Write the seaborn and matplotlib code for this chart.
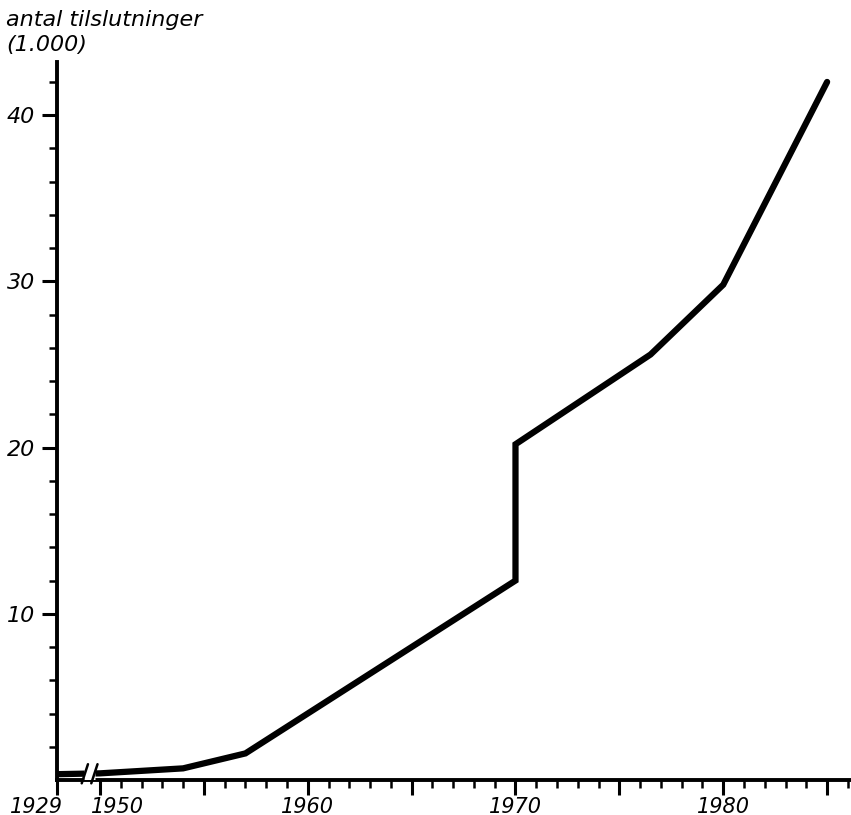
import numpy as np
import pandas as pd
import matplotlib
matplotlib.use("Agg")
import matplotlib.pyplot as plt
import matplotlib.transforms as mtransforms
from matplotlib.ticker import FixedLocator, FuncFormatter
import seaborn as sns

# data (antal tilslutninger, 1.000)
years = [1929, 1950, 1954, 1957, 1970, 1970, 1976.5, 1980, 1985]
values = [0.35, 0.4, 0.7, 1.6, 12.0, 20.2, 25.6, 29.8, 42.0]

label_years = [1929, 1950, 1960, 1970, 1980]
major_years = [1929, 1950, 1955, 1960, 1965, 1970, 1975, 1980, 1985]
minor_years = [y for y in range(1951, 1987) if y % 5 != 0]
y_major = [10, 20, 30, 40]
y_minor = [v for v in range(2, 44, 2) if v % 10 != 0]

# axis break: 1929 is drawn ~2 years left of 1950
BREAK_POS = 1947.93


def to_pos(year):
    return BREAK_POS if year < 1950 else year


def to_year(pos):
    return 1929 if pos < 1949 else int(round(pos))


df = pd.DataFrame({"year": years, "value": values})
df["pos"] = df["year"].apply(to_pos)

sns.set_style("ticks")
plt.rcParams["font.family"] = ["DejaVu Sans"]
plt.rcParams["font.style"] = "italic"
plt.rcParams["text.color"] = "black"
plt.rcParams["xtick.color"] = "black"
plt.rcParams["ytick.color"] = "black"
plt.rcParams["axes.edgecolor"] = "black"

fig = plt.figure(figsize=(8.51, 8.15), dpi=100)
ax = fig.add_axes([57 / 851, 35 / 815, (851 - 57) / 851, (780 - 62) / 815])

sns.lineplot(data=df, x="pos", y="value", ax=ax, color="black", linewidth=4.5,
             estimator=None, sort=False, solid_joinstyle="miter", zorder=3)

ax.set_xlim(BREAK_POS, 1986.15)
ax.set_ylim(0, 43.2)

# break in the curve and the axis
gap_l, gap_r = 1949.25, 1949.75
ax.plot([gap_l, gap_r], [0.38, 0.38], color="white", linewidth=8, zorder=4,
        solid_capstyle="butt")
for gx in (gap_l + 0.02, gap_r - 0.02):
    ax.plot([gx - 0.15, gx + 0.15], [-0.2, 0.95], color="black", linewidth=1.8,
            zorder=5, clip_on=False)

ax.xaxis.set_major_locator(FixedLocator([to_pos(y) for y in major_years]))
ax.xaxis.set_minor_locator(FixedLocator(minor_years))
ax.xaxis.set_major_formatter(FuncFormatter(
    lambda p, _: str(to_year(p)) if to_year(p) in label_years else ""))
ax.yaxis.set_major_locator(FixedLocator(y_major))
ax.yaxis.set_minor_locator(FixedLocator(y_minor))

ax.tick_params(axis="both", which="major", length=11, width=2.2,
               labelsize=15, direction="out", pad=3)
ax.tick_params(axis="x", which="major", pad=1)
ax.tick_params(axis="y", which="major", labelsize=16, pad=5)
ax.tick_params(axis="both", which="minor", length=6, width=1.8, direction="out")

for side in ("top", "right"):
    ax.spines[side].set_visible(False)
for side in ("left", "bottom"):
    ax.spines[side].set_linewidth(2.8)

ax.set_xlabel("")
ax.set_ylabel("")

# 1929 and 1950 labels sit either side of the break
fig.canvas.draw()
for lab in ax.get_xticklabels():
    if lab.get_text() == "1929":
        lab.set_ha("right")
        lab.set_transform(lab.get_transform() + mtransforms.ScaledTranslation(
            6 / 100, 0, fig.dpi_scale_trans))
    elif lab.get_text() == "1950":
        lab.set_ha("left")
        lab.set_transform(lab.get_transform() + mtransforms.ScaledTranslation(
            -9 / 100, 0, fig.dpi_scale_trans))

fig.text(6 / 851, 1 - 10 / 815, "antal tilslutninger", fontsize=16,
         style="italic", va="top", ha="left")
fig.text(6 / 851, 1 - 35 / 815, "(1.000)", fontsize=16,
         style="italic", va="top", ha="left")

fig.savefig("out.png", dpi=100)
